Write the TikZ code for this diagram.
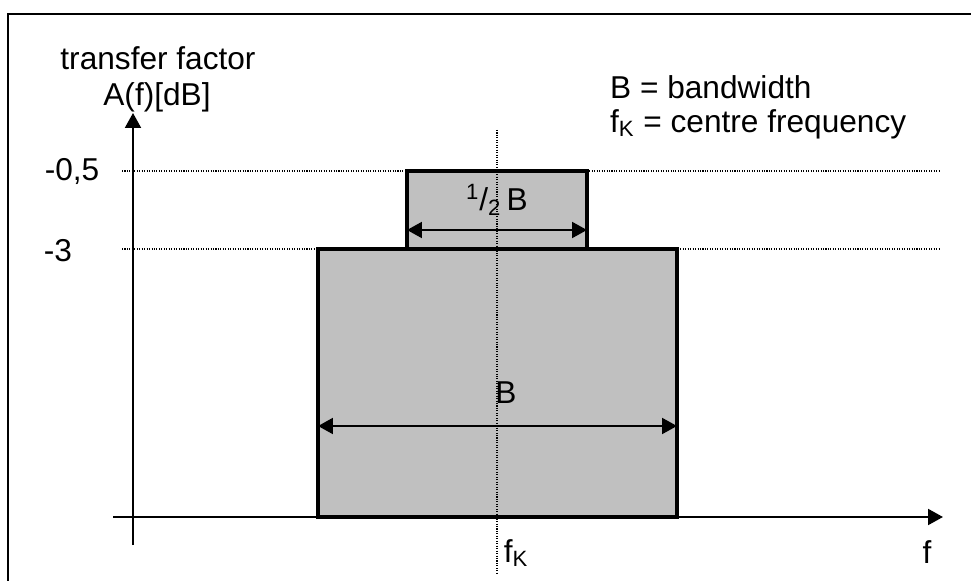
\documentclass[tikz,border=0pt]{standalone}
\usepackage{fontspec}
\setmainfont{Liberation Sans}
\usetikzlibrary{arrows.meta}
\definecolor{barfill}{HTML}{C0C0C0}

\begin{document}
\begin{tikzpicture}[x=0.02cm,y=-0.02cm,font=\fontsize{18}{21}\selectfont,
  ax/.style={line width=1.4pt,-{Triangle[length=8.5pt,width=9pt]}},
  dim/.style={line width=1.4pt,{Triangle[length=8.5pt,width=9pt]}-{Triangle[length=8.5pt,width=9pt]}},
  dotline/.style={line width=0.7pt,dash pattern=on 0.6pt off 0.8pt},
  bar/.style={draw,line width=1.8pt,fill=barfill}]
  \useasboundingbox (0,0) rectangle (971,581);
  \clip (0,0) rectangle (971,581);
  % frame
  \draw[line width=1.7pt] (8,600) -- (8,14) -- (990,14);
  % reference points
  \coordinate (ytop) at (133,113);
  \coordinate (ybot) at (133,545);
  \coordinate (xl) at (113,517);
  \coordinate (xr) at (943,517);
  \coordinate (fkt) at (497,130);
  \coordinate (fkb) at (497,574);
  % levels
  \foreach \y/\n in {171/l05,249/l3}
    {\coordinate (\n a) at (122,\y); \coordinate (\n b) at (940,\y);
     \draw[dotline] (\n a) -- (\n b);}
  % pass bands
  \draw[bar] (318,249) coordinate (bw1) rectangle (677,517) coordinate (bw2);
  \draw[bar] (407,171) coordinate (hw1) rectangle (587,249) coordinate (hw2);
  \draw[dotline] (fkt) -- (fkb);
  % axes
  \draw[ax] (ybot) -- (ytop);
  \draw[ax] (xl) -- (xr);
  % widths
  \coordinate (hl) at (407,230); \coordinate (hr) at (587,230);
  \coordinate (bl) at (318,426); \coordinate (br) at (677,426);
  \draw[dim] (hl) -- (hr);
  \draw[dim] (bl) -- (br);
  % labels
  \node (tf) at (158,58) {transfer factor};
  \node (af) at (157,97) {A(f)[dB]};
  \node (m05) at (72,171) {-0,5};
  \node (m3) at (58,251) {-3};
  \node[anchor=west] (bwtext) at (604,87) {B = bandwidth};
  \node[anchor=west] (cftext) at (604,124) {f\textsubscript{K} = centre frequency};
  \node (half) at (497,200) {\textsuperscript{1}/\textsubscript{2}\,B};
  \node (btext) at (506,393) {B};
  \node (fk) at (516,553) {f\textsubscript{K}};
  \node (f) at (927,552) {f};
\end{tikzpicture}
\end{document}
